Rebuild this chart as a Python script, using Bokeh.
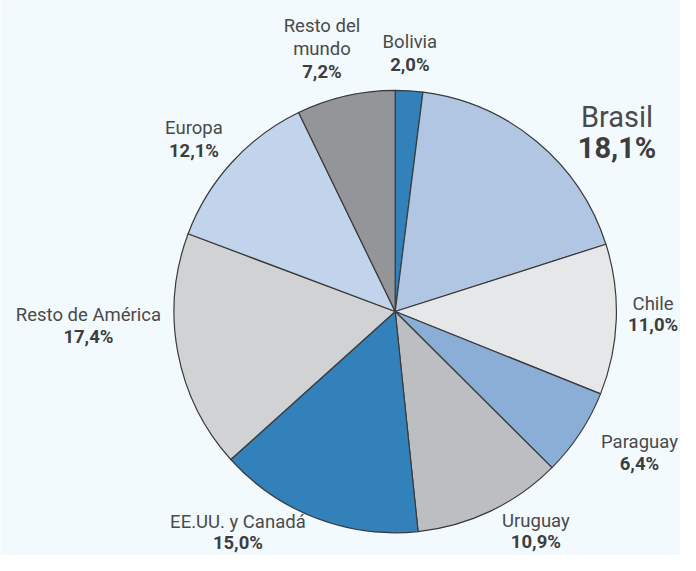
from bokeh.plotting import figure
from bokeh.models import Range1d, ColumnDataSource
from bokeh.core.properties import value
from bokeh.embed import file_html
from bokeh.resources import INLINE
import math

# ---- data ----
countries = ["Bolivia", "Brasil", "Chile", "Paraguay", "Uruguay",
             "EE.UU. y Canadá", "Resto de América", "Europa", "Resto del\nmundo"]
shares = [2.0, 18.1, 11.0, 6.4, 10.9, 15.0, 17.4, 12.1, 7.2]

# ---- styles / layout ----
colors = ["#3381bb", "#b0c6e3", "#e6e7e8", "#8aaed6", "#bdbec1",
          "#3381bb", "#d1d2d4", "#c2d4eb", "#939598"]
BG = "#f2fafd"
W, H = 680, 555
SX, SY = W / 696.0, H / 571.0          # design frame 696x571 -> figure
PCX, PCY, PR = 404, 320, 227           # pie centre / radius in design frame (y down)
# label anchors: (dx, dy of name baseline, dy of value baseline) from pie centre, y down
label_layout = [(15, -271, -247), (227, -190, -158), (264, -1, 20), (250, 141, 163),
                (144, 222, 244), (-161, 223, 245), (-314, 10, 33), (-206, -182, -159),
                (-75, -287, -240)]
big = [False, True, False, False, False, False, False, False, False]
FS_SMALL, FS_BIG = 18.5, 29.0

p = figure(width=W, height=H, x_range=Range1d(0, W), y_range=Range1d(0, H),
           output_backend="svg", toolbar_location=None, min_border=0)
p.axis.visible = False
p.grid.visible = False
p.outline_line_color = None
p.background_fill_color = BG
p.border_fill_color = BG

cx = PCX * SX
cy = H - PCY * SY
radius = PR * (SX + SY) / 2

total = sum(shares)
starts, ends = [], []
acc = 0.0
for v in shares:
    starts.append(math.pi / 2 - 2 * math.pi * acc / total)
    acc += v
    ends.append(math.pi / 2 - 2 * math.pi * acc / total)

src = ColumnDataSource(dict(x=[cx] * len(shares), y=[cy] * len(shares),
                            start=starts, end=ends, color=colors))
p.wedge(x="x", y="y", radius=radius, start_angle="start", end_angle="end",
        direction="clock", fill_color="color", line_color="#3a3a3a",
        line_width=1.2, source=src)


def to_fig(dx, dy, fs):
    fx = (PCX + dx) * SX
    fy = (PCY + dy) * SY - 0.345 * fs   # baseline -> middle of em box
    return fx, H - fy


name_rows = dict(x=[], y=[], t=[], size=[])
val_rows = dict(x=[], y=[], t=[], size=[])
for name, v, (dx, dyn, dyv), b in zip(countries, shares, label_layout, big):
    fs = FS_BIG if b else FS_SMALL
    lines = name.split("\n")
    step = (dyv - dyn) / len(lines) if len(lines) > 1 else 0
    for i, ln in enumerate(lines):
        x, y = to_fig(dx, dyn + i * step, fs)
        name_rows["x"].append(x)
        name_rows["y"].append(y)
        name_rows["t"].append(ln)
        name_rows["size"].append(f"{fs}px")
    x, y = to_fig(dx, dyv, fs)
    val_rows["x"].append(x)
    val_rows["y"].append(y)
    val_rows["t"].append(f"{v:.1f}".replace(".", ",") + "%")
    val_rows["size"].append(f"{fs}px")

p.text(x="x", y="y", text="t", text_font_size="size", source=ColumnDataSource(name_rows),
       text_font=value("Roboto"), text_color="#4a4a4a", text_align="center",
       text_baseline="middle")
p.text(x="x", y="y", text="t", text_font_size="size", source=ColumnDataSource(val_rows),
       text_font=value("Roboto"), text_font_style="bold", text_color="#3d3d3d",
       text_align="center", text_baseline="middle")

html = file_html(p, INLINE)
html = html.replace("<body>", '<body style="background-color:%s;">' % BG, 1)
open("out.html", "w").write(html)
